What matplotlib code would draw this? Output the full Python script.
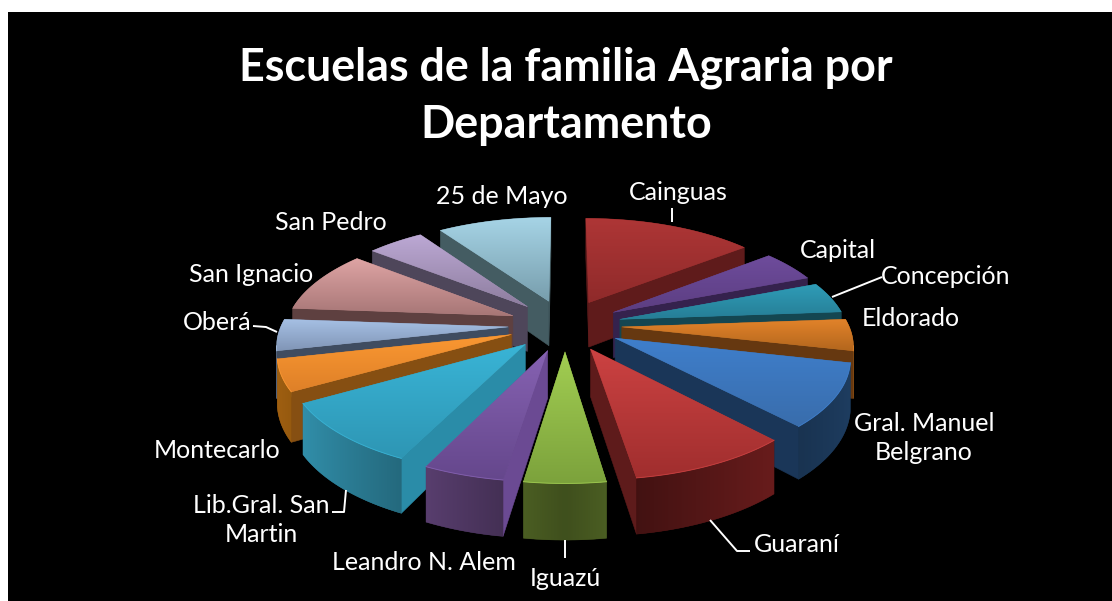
import numpy as np
import matplotlib
matplotlib.use("Agg")
import matplotlib.pyplot as plt
from matplotlib.patches import Polygon
from matplotlib.colors import to_rgb

departamentos = ["Cainguas", "Capital", "Concepción", "Eldorado", "Gral. Manuel\nBelgrano",
                 "Guaraní", "Iguazú", "Leandro N. Alem", "Lib.Gral. San\nMartin", "Montecarlo",
                 "Oberá", "San Ignacio", "San Pedro", "25 de Mayo"]
escuelas = [3, 1, 1, 1, 2, 2, 1, 1, 2, 1, 1, 2, 1, 2]
titulo = "Escuelas de la familia Agraria por\nDepartamento"

# styling: top gradient (light, dark), cut-face colour, rim colour
top_light = ["#AE3636", "#6E4C9C", "#2F9DB8", "#E2832A", "#3F7FCC", "#CC4242", "#A2CE52",
             "#8662B2", "#39B4D6", "#FB9832", "#A6C0E4", "#DFA4A4", "#BCA8D4", "#A6D4E6"]
top_dark = ["#8F2A2A", "#5C3E82", "#267E96", "#B3661D", "#396DAC", "#A02E2E", "#7CA23C",
            "#65478C", "#2E96B4", "#DE8028", "#8095B6", "#A67676", "#8D7D9E", "#789EAD"]
cut_col = ["#5F1B1B", "#35224D", "#144651", "#663810", "#1A3658", "#5E1B1B", "#4A5E22",
           "#6B4A93", "#2A8CA8", "#864F12", "#3F4C60", "#5E4040", "#4E465A", "#445C62"]
rim_col = ["#6A1E1E", "#3C2757", "#185566", "#7A4510", "#1B3757", "#701E1E", "#7E9E3A",
           "#72508E", "#2F88A2", "#90560F", "#4E5E78", "#6E4C4C", "#5A5068", "#4E6A72"]
label_xy = [(678, 192), (838, 251), (946, 276), (911, 318), (924, 438), (797, 545), (565, 578),
            (424, 563), (261, 520), (217, 451), (217, 323), (251, 275), (331, 223), (502, 197)]
leaders = [[(672, 208), (672, 222)], [(832, 297), (882, 277)],
           [(253, 326), (266, 327), (277, 332)], [(346, 490), (344, 512), (332, 512)],
           [(710, 520), (737, 551), (750, 551)], [(565, 540), (565, 558)]]

# projection of the disc
CX, CY, A, B, K, H, EXPL = 565, 325, 103, 227, 0.15, 46, 0.25


def project(X, Y, Z=0.0):
    X, Y = np.asarray(X, float), np.asarray(Y, float)
    s = 1 / (1 + K * Y)
    return CX + B * X * s, CY - (A * Y - H * Z) * s


W, Ht = 1112, 601
fig = plt.figure(figsize=(W / 100, Ht / 100), dpi=100, facecolor="white")
ax = fig.add_axes([8 / W, 0, (W - 8) / W, (Ht - 12) / Ht], facecolor="black")
ax.set_xticks([]), ax.set_yticks([])
for sp in ax.spines.values():
    sp.set_visible(False)

edges = np.cumsum([0] + escuelas) / sum(escuelas) * 2 * np.pi
mids = (edges[:-1] + edges[1:]) / 2
order = np.argsort(-np.cos(mids))


def quad(p, q, color, z):
    xa, ya = project(*p, 0)
    xb, yb = project(*q, 0)
    xc, yc = project(*q, 1)
    xd, yd = project(*p, 1)
    ax.fill([xa, xb, xc, xd], [ya, yb, yc, yd], color=color, lw=0.4, zorder=z)


def gradient_fill(colors, sx, sy, outline, z, horizontal=False):
    arr = np.asarray(colors).reshape((1, -1, 3) if horizontal else (-1, 1, 3))
    im = ax.imshow(arr, extent=(sx.min(), sx.max(), sy.max(), sy.min()), origin="upper",
                   aspect="auto", zorder=z)
    im.set_clip_path(Polygon(outline, closed=True, transform=ax.transData))


for rank, i in enumerate(order):
    z0 = 10 + rank * 5
    ox, oy = EXPL * np.sin(mids[i]), EXPL * np.cos(mids[i])
    th = np.linspace(edges[i], edges[i + 1], max(8, int((edges[i + 1] - edges[i]) / 0.02)))
    rx, ry = ox + np.sin(th), oy + np.cos(th)
    # cut faces, kept only when they face the viewer
    for p, q in (((ox, oy), (rx[0], ry[0])), ((rx[-1], ry[-1]), (ox, oy))):
        if project(*q)[0] < project(*p)[0]:
            quad(p, q, cut_col[i], z0)
    # outer rim: visible part only, shaded along x
    tx, ty = project(rx, ry, 0)
    bx, by = project(rx, ry, 1)
    vis = np.r_[np.diff(tx) < 0, False] | np.r_[False, np.diff(tx) < 0]
    if vis.sum() >= 2:
        outline = np.r_[np.c_[tx[vis], ty[vis]], np.c_[bx[vis], by[vis]][::-1]]
        base = np.array(to_rgb(rim_col[i]))
        f = 0.5 + 0.63 * np.abs(np.sin(th[vis]))
        srt = np.argsort(tx[vis])
        grid = np.linspace(tx[vis].min(), tx[vis].max(), 128)
        ff = np.interp(grid, tx[vis][srt], f[srt])
        cols = np.clip(base[None, :] * ff[:, None], 0, 1)
        mean = tuple(cols.mean(axis=0))
        ax.fill(outline[:, 0], outline[:, 1], color=mean, lw=0.3, zorder=z0 + 1)
        gradient_fill(cols, outline[:, 0], outline[:, 1], outline, z0 + 2, horizontal=True)
    # top face
    wx, wy = np.r_[ox, rx], np.r_[oy, ry]
    sx, sy = project(wx, wy)
    mean = tuple((np.array(to_rgb(top_light[i])) + np.array(to_rgb(top_dark[i]))) / 2)
    ax.fill(sx, sy, color=mean, lw=0.3, zorder=z0 + 3)
    grad = np.linspace(to_rgb(top_light[i]), to_rgb(top_dark[i]), 128)
    gradient_fill(grad, sx, sy, np.c_[sx, sy], z0 + 4)
    if vis.sum() >= 2:
        ax.plot(tx[vis], ty[vis], color=top_light[i], lw=0.7, alpha=0.8, zorder=z0 + 4.5)

ax.set_xlim(8, W)
ax.set_ylim(Ht, 12)

for pts in leaders:
    xs, ys = zip(*pts)
    ax.plot(xs, ys, color="white", lw=1.4, zorder=200, solid_capstyle="butt")

for name, (x, y) in zip(departamentos, label_xy):
    ax.text(x, y, name, color="white", fontsize=18, family="Lato", ha="center", va="center",
            linespacing=1.36, multialignment="center", zorder=300)

ax.text(566, 96, titulo, color="white", fontsize=32.3, family="Lato", fontweight="bold",
        ha="center", va="center", linespacing=1.44, multialignment="center", zorder=300)

fig.savefig("out.png", dpi=100, facecolor="white")
